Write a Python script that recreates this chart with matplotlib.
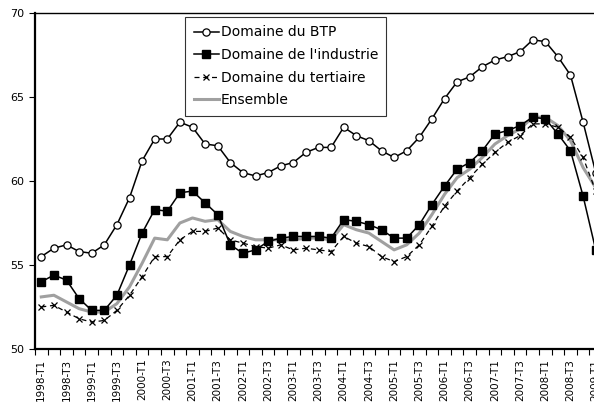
import matplotlib
matplotlib.use("Agg")
import matplotlib.pyplot as plt

# quarterly periods 1998-T1 .. 2009-T1
periods = [f"{y}-T{q}" for y in range(1998, 2010) for q in range(1, 5)][:45]

btp = [55.5, 56.0, 56.2, 55.8, 55.7, 56.2, 57.4, 59.0, 61.2, 62.5,
       62.5, 63.5, 63.2, 62.2, 62.1, 61.1, 60.5, 60.3, 60.5, 60.9,
       61.1, 61.7, 62.0, 62.0, 63.2, 62.7, 62.4, 61.8, 61.4, 61.8,
       62.6, 63.7, 64.9, 65.9, 66.2, 66.8, 67.2, 67.4, 67.7, 68.4,
       68.3, 67.4, 66.3, 63.5, 60.5]

industrie = [54.0, 54.4, 54.1, 53.0, 52.3, 52.3, 53.2, 55.0, 56.9, 58.3,
             58.2, 59.3, 59.4, 58.7, 58.0, 56.2, 55.7, 55.9, 56.4, 56.6,
             56.7, 56.7, 56.7, 56.6, 57.7, 57.6, 57.4, 57.1, 56.6, 56.6,
             57.4, 58.6, 59.7, 60.7, 61.1, 61.8, 62.8, 63.0, 63.3, 63.8,
             63.7, 62.8, 61.8, 59.1, 55.9]

tertiaire = [52.5, 52.6, 52.2, 51.8, 51.6, 51.7, 52.3, 53.2, 54.3, 55.5,
             55.5, 56.5, 57.0, 57.0, 57.2, 56.5, 56.3, 56.1, 56.0, 56.2,
             55.9, 56.0, 55.9, 55.8, 56.7, 56.3, 56.1, 55.5, 55.2, 55.5,
             56.2, 57.3, 58.5, 59.4, 60.2, 61.0, 61.7, 62.3, 62.7, 63.4,
             63.4, 63.2, 62.6, 61.4, 59.4]

ensemble = [53.1, 53.2, 52.8, 52.4, 52.2, 52.2, 52.7, 53.7, 55.1, 56.6,
            56.5, 57.5, 57.8, 57.6, 57.7, 57.0, 56.7, 56.5, 56.5, 56.5,
            56.5, 56.6, 56.6, 56.5, 57.4, 57.1, 56.9, 56.4, 55.9, 56.2,
            56.9, 58.0, 59.2, 60.2, 60.7, 61.4, 62.2, 62.7, 63.1, 63.8,
            63.8, 63.3, 62.4, 60.8, 59.6]

plt.rcParams['font.family'] = 'DejaVu Sans'

fig = plt.figure(figsize=(5.94, 4.12), dpi=100)
ax = fig.add_axes([35 / 594, 63 / 412, 567 / 594, 336 / 412])

x = list(range(len(periods)))

ax.plot(x, ensemble, color='#a0a0a0', lw=2.2, zorder=2, label='Ensemble')
ax.plot(x, btp, color='black', lw=1.1, marker='o', ms=5.2,
        mfc='white', mec='black', mew=0.9, zorder=4, label='Domaine du BTP')
ax.plot(x, industrie, color='black', lw=1.1, marker='s', ms=5.8,
        mfc='black', mec='black', zorder=4, label="Domaine de l'industrie")
ax.plot(x, tertiaire, color='black', lw=0.9, ls=(0, (4, 3)), marker='x',
        ms=4.5, mew=0.9, zorder=3, label='Domaine du tertiaire')

ax.set_xlim(-0.5, 44.5)
ax.set_ylim(50, 70)
ax.set_yticks([50, 55, 60, 65, 70])

ax.set_xticks([i - 0.5 for i in x], minor=True)
ax.set_xticks(x[::2])
ax.set_xticklabels(periods[::2], rotation=90, fontsize=7.5)
ax.tick_params(axis='x', which='major', length=0, pad=7)
ax.tick_params(axis='x', which='minor', length=4, width=0.8, direction='out')
ax.tick_params(axis='y', length=4, width=0.8, labelsize=8, direction='out')

ax.spines['left'].set_linewidth(1.6)
ax.spines['bottom'].set_linewidth(1.6)
ax.spines['top'].set_linewidth(1.0)
ax.spines['right'].set_visible(False)

handles, labels = ax.get_legend_handles_labels()
order = [1, 2, 3, 0]
leg = ax.legend([handles[i] for i in order], [labels[i] for i in order],
                loc='upper left', bbox_to_anchor=(0.265, 0.988),
                borderaxespad=0, fontsize=10, handlelength=1.8,
                handletextpad=0.15, labelspacing=0.62, borderpad=0.6,
                fancybox=False, frameon=True, edgecolor='black')
leg.get_frame().set_linewidth(0.8)

fig.savefig('out.png', dpi=100)
